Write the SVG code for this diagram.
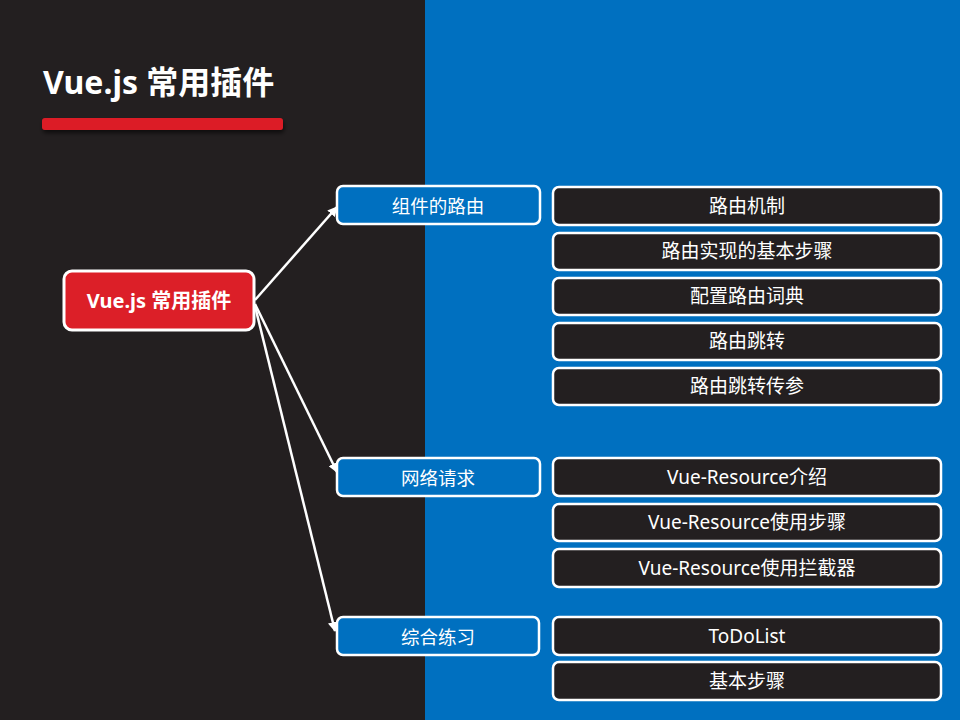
<svg xmlns="http://www.w3.org/2000/svg" width="960" height="720" viewBox="0 0 960 720">
<defs>
<style>
text{font-family:"Noto Sans","Noto Sans CJK SC",sans-serif;fill:#fff;text-anchor:middle;dominant-baseline:central}
.root rect{fill:#DC1F28;stroke:#fff;stroke-width:3}
.mid rect{fill:#0070C0;stroke:#fff;stroke-width:2.5}
.leaf rect{fill:#231F20;stroke:#fff;stroke-width:2.5}
.mid text{font-size:18.5px}
.leaf text{font-size:19px}
.conn line{stroke:#fff;stroke-width:2.5;marker-end:url(#arr)}
</style>
<marker id="arr" viewBox="0 0 10 10" refX="9" refY="5" markerWidth="4" markerHeight="4" orient="auto" markerUnits="strokeWidth">
<path d="M0,0 L10,5 L0,10 z" fill="#fff"/>
</marker>
<filter id="sh" x="-10%" y="-50%" width="120%" height="250%">
<feDropShadow dx="1" dy="3" stdDeviation="2" flood-color="#000" flood-opacity="0.6"/>
</filter>
</defs>
<rect x="0" y="0" width="425" height="720" fill="#231F20"/>
<rect x="425" y="0" width="535" height="720" fill="#0070C0"/>
<g id="title">
<text x="43" y="81" style="font-size:32px;font-weight:bold;text-anchor:start">Vue.js 常用插件</text>
<rect x="42" y="118" width="241" height="12" rx="3" fill="#DC1F28" filter="url(#sh)"/>
</g>
<g id="connectors" class="conn">
<line x1="255" y1="300" x2="337" y2="207"/>
<line x1="255" y1="304" x2="337" y2="472"/>
<line x1="255" y1="306" x2="335" y2="631"/>
</g>
<g id="root" class="root"><rect x="64" y="271" width="190" height="59" rx="8"/><text x="159" y="300" style="font-size:20px;font-weight:bold">Vue.js 常用插件</text></g>
<g id="m1" class="mid"><rect x="337" y="186" width="203" height="38" rx="6"/><text x="438" y="205">组件的路由</text></g>
<g id="m2" class="mid"><rect x="337" y="458" width="203" height="38" rx="6"/><text x="438" y="477">网络请求</text></g>
<g id="m3" class="mid"><rect x="337" y="617" width="202" height="38" rx="6"/><text x="438" y="636">综合练习</text></g>
<g id="l1" class="leaf"><rect x="553" y="187" width="388" height="38" rx="6"/><text x="747" y="206">路由机制</text></g>
<g id="l2" class="leaf"><rect x="553" y="233" width="388" height="37" rx="6"/><text x="747" y="251">路由实现的基本步骤</text></g>
<g id="l3" class="leaf"><rect x="553" y="278" width="388" height="37" rx="6"/><text x="747" y="296">配置路由词典</text></g>
<g id="l4" class="leaf"><rect x="553" y="323" width="388" height="37" rx="6"/><text x="747" y="341">路由跳转</text></g>
<g id="l5" class="leaf"><rect x="553" y="368" width="388" height="37" rx="6"/><text x="747" y="386">路由跳转传参</text></g>
<g id="l6" class="leaf"><rect x="553" y="458" width="388" height="38" rx="6"/><text x="747" y="477">Vue-Resource介绍</text></g>
<g id="l7" class="leaf"><rect x="553" y="504" width="388" height="37" rx="6"/><text x="747" y="522">Vue-Resource使用步骤</text></g>
<g id="l8" class="leaf"><rect x="553" y="549" width="388" height="38" rx="6"/><text x="747" y="568">Vue-Resource使用拦截器</text></g>
<g id="l9" class="leaf"><rect x="553" y="617" width="388" height="38" rx="6"/><text x="747" y="636">ToDoList</text></g>
<g id="l10" class="leaf"><rect x="553" y="662" width="388" height="38" rx="6"/><text x="747" y="681">基本步骤</text></g>
</svg>
